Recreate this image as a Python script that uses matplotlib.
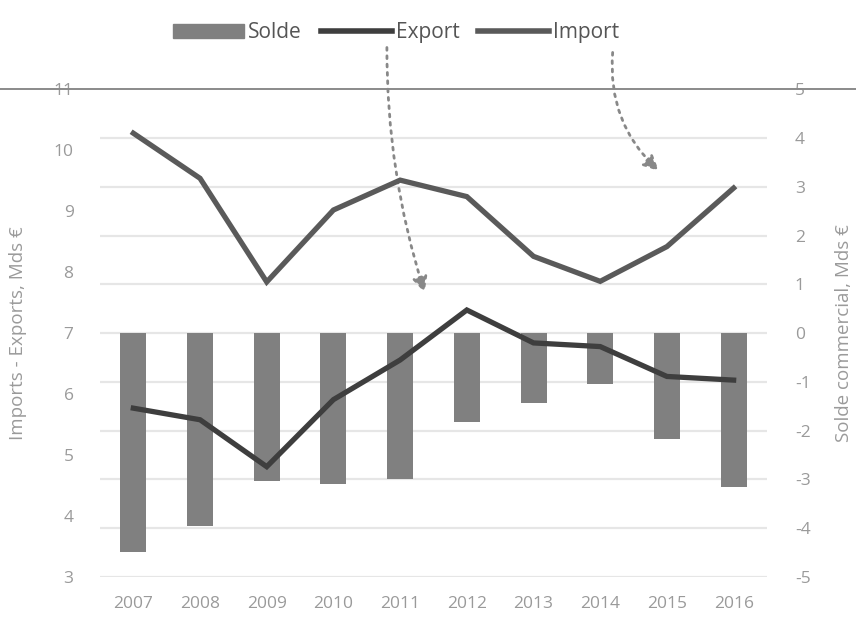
import matplotlib
matplotlib.use("Agg")
import matplotlib.pyplot as plt
from matplotlib.patches import Patch, FancyArrowPatch
from matplotlib.lines import Line2D

years = ["2007", "2008", "2009", "2010", "2011", "2012", "2013", "2014", "2015", "2016"]
imports = [10.28, 9.54, 7.84, 9.02, 9.51, 9.24, 8.26, 7.85, 8.42, 9.38]
exports = [5.77, 5.58, 4.81, 5.91, 6.56, 7.38, 6.84, 6.78, 6.29, 6.23]
solde = [-4.49, -3.95, -3.04, -3.09, -3.0, -1.82, -1.43, -1.05, -2.16, -3.15]

left_ticks = list(range(3, 12))
right_ticks = list(range(-5, 6))

TICK_C = "#9a9a9a"
plt.rcParams["font.family"] = ["Open Sans", "DejaVu Sans"]

fig = plt.figure(figsize=(8.56, 6.21), dpi=100)
ax = fig.add_axes([0.1168, 0.0708, 0.7792, 0.7854])
ax2 = ax.twinx()

x = list(range(len(years)))

# right axis: gridlines (same positions as left scale) then solde bars
ax2.set_ylim(-5, 5)
for t in right_ticks[:-1]:
    ax2.axhline(t, color="#e6e6e6", lw=1.6, zorder=0)
ax2.bar(x, solde, width=0.39, color="#808080", zorder=1)
ax2.set_yticks(right_ticks)
ax2.set_yticklabels([str(t) for t in right_ticks])

ax.set_zorder(ax2.get_zorder() + 1)
ax.patch.set_visible(False)
ax.plot(x, imports, color="#5a5a5a", lw=3.8, solid_joinstyle="miter", zorder=3)
ax.plot(x, exports, color="#3e3e3e", lw=3.8, solid_joinstyle="miter", zorder=3)
ax.set_ylim(3, 11)
ax.set_xlim(-0.5, len(years) - 0.5)
ax.set_yticks(left_ticks)
ax.set_xticks(x)
ax.set_xticklabels(years)

for a in (ax, ax2):
    for s in a.spines.values():
        s.set_visible(False)
    a.tick_params(length=0, colors=TICK_C, labelsize=12.5)
ax.tick_params(axis="y", pad=19)
ax.tick_params(axis="x", pad=14)
ax2.tick_params(axis="y", pad=20)

ax.set_ylabel("Imports - Exports, Mds €", color=TICK_C, fontsize=13.5)
ax.yaxis.set_label_coords(-0.109, 0.5)
ax2.set_ylabel("Solde commercial, Mds €", color=TICK_C, fontsize=13.5, rotation=90)
ax2.yaxis.set_label_coords(1.102, 0.5)

# scanned page line across the top gridline
fig.add_artist(Line2D([0, 1], [0.856, 0.856], transform=fig.transFigure,
                      color="#8a8a8a", lw=1.4))

handles = [Patch(color="#808080"),
           Line2D([], [], color="#3e3e3e", lw=4),
           Line2D([], [], color="#5a5a5a", lw=4)]
fig.legend(handles, ["Solde", "Export", "Import"], loc="center",
           bbox_to_anchor=(0.463, 0.947), ncol=3, frameon=False, fontsize=15,
           handlelength=3.4, handletextpad=0.2, columnspacing=0.9,
           labelcolor="#555555")

# dotted arrows from legend entries to the lines
fig.add_artist(FancyArrowPatch(
    (0.452, 0.928), (0.497, 0.525), transform=fig.transFigure,
    connectionstyle="arc3,rad=0.08", arrowstyle="-|>,head_length=9,head_width=4.5",
    linestyle=(0, (1, 2)), lw=2, color="#888888"))
fig.add_artist(FancyArrowPatch(
    (0.716, 0.92), (0.772, 0.722), transform=fig.transFigure,
    connectionstyle="arc3,rad=0.25", arrowstyle="-|>,head_length=9,head_width=4.5",
    linestyle=(0, (1, 2)), lw=2, color="#888888"))

fig.savefig("out.png", dpi=100)
